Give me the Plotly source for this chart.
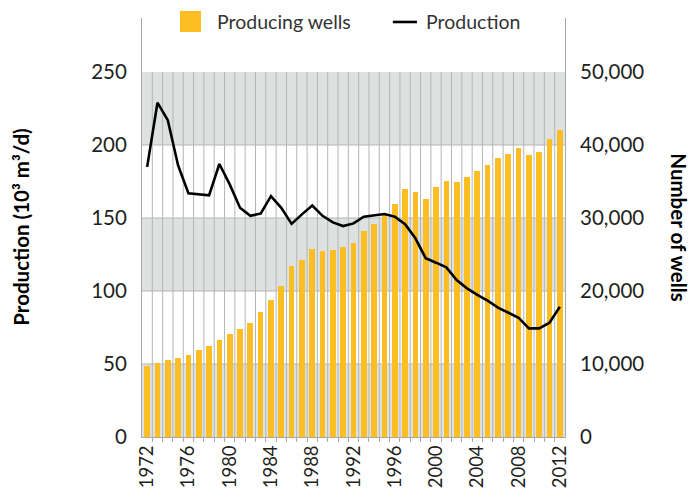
import plotly.graph_objects as go

years = list(range(1972, 2013))
producing_wells = [9770, 10140, 10550, 10820, 11230, 11920, 12470, 13290, 14110, 14790,
                   15620, 17120, 18770, 20680, 23420, 24250, 25750, 25480, 25600, 25980,
                   26580, 28220, 29180, 30410, 31920, 33970, 33560, 32600, 34250, 35070,
                   34930, 35620, 36440, 37260, 38220, 38770, 39590, 38630, 39040, 40820,
                   42050]
production = [185, 229, 217, 186, 167, 166.5, 165.5, 187, 173, 157,
              151.5, 153, 165, 157, 146, 152.5, 158.5, 151.5, 147, 144.5,
              146.3, 150.9, 152, 152.7, 150.9, 145.7, 136.1, 122.4, 119.4, 116.2,
              107.5, 101.8, 97.3, 93.4, 88.6, 85.4, 81.7, 74.4, 74.4, 78.3,
              89.2]
left_ticks = [0, 50, 100, 150, 200, 250]
right_ticks = [0, 10000, 20000, 30000, 40000, 50000]
x_ticks = list(range(1972, 2013, 4))

BAR = "#FDBE23"
BAND = "#DDE2E0"
GRID = "#B5B5B5"
TXT = "#231F20"
FONT = "Lato"

YMAX = 287
fig = go.Figure()

# bars on primary axis (right side, wells), line on overlaying axis (left side, production)
fig.add_trace(go.Bar(x=years, y=producing_wells, name="Producing wells",
                     marker=dict(color=BAR, line=dict(width=0)), width=0.55,
                     yaxis="y", showlegend=False))
fig.add_trace(go.Scatter(x=years, y=production, name="Production", mode="lines",
                         line=dict(color="black", width=2.6), yaxis="y2", showlegend=False))

shapes = []
for lo in (0, 100, 200):
    shapes.append(dict(type="rect", xref="x", yref="y2", x0=years[0] - 0.5, x1=years[-1] + 0.5,
                       y0=lo, y1=lo + 50, fillcolor=BAND, line=dict(width=0), layer="below"))
for v in left_ticks[1:-1]:
    shapes.append(dict(type="line", xref="x", yref="y2", x0=years[0] - 0.5, x1=years[-1] + 0.5,
                       y0=v, y1=v, line=dict(color=GRID, width=1), layer="below"))
for yr in years[:-1]:
    shapes.append(dict(type="line", xref="x", yref="y2", x0=yr + 0.5, x1=yr + 0.5,
                       y0=0, y1=250, line=dict(color=GRID, width=1), layer="below"))

# manual legend
shapes.append(dict(type="rect", xref="paper", yref="paper", x0=0.0898, x1=0.1395,
                   y0=0.9666, y1=1.0167, fillcolor=BAR, line=dict(width=0)))
shapes.append(dict(type="line", xref="paper", yref="paper", x0=0.593, x1=0.650,
                   y0=0.9905, y1=0.9905, line=dict(color="black", width=2.6)))

annotations = [
    dict(text="Producing wells", xref="paper", yref="paper", x=0.173, y=0.9905,
         xanchor="left", yanchor="middle", showarrow=False,
         font=dict(family=FONT, size=19.5, color="#333333")),
    dict(text="Production", xref="paper", yref="paper", x=0.667, y=0.9905,
         xanchor="left", yanchor="middle", showarrow=False,
         font=dict(family=FONT, size=19.5, color="#333333")),
    dict(text="<b>Production (10³ m³/d)</b>", xref="paper", yref="paper",
         x=-0.288, y=0.5, xanchor="center", yanchor="middle", textangle=-90,
         showarrow=False, font=dict(family=FONT, size=20.5, color="black")),
    dict(text="<b>Number of wells</b>", xref="paper", yref="paper",
         x=1.270, y=0.5, xanchor="center", yanchor="middle", textangle=90,
         showarrow=False, font=dict(family=FONT, size=20.5, color="black")),
]

# page body has an 8px margin, so the figure is shrunk by 8px and margins reduced
fig.update_layout(
    width=688, height=493,
    margin=dict(l=134, r=131, t=10, b=64),
    paper_bgcolor="white", plot_bgcolor="white",
    font=dict(family=FONT, color=TXT),
    bargap=0,
    shapes=shapes,
    annotations=annotations,
    xaxis=dict(range=[years[0] - 0.5, years[-1] + 0.5], tickmode="array", tickvals=x_ticks,
               ticktext=[str(t) for t in x_ticks], tickangle=-90, ticks="",
               tickfont=dict(size=18.5, color=TXT), showgrid=False, zeroline=False,
               showline=True, linecolor="#A8A8A8", linewidth=1,
               minor=dict(tickvals=[y + 0.5 for y in years[:-1]], ticks="outside",
                          ticklen=4, tickcolor="#A8A8A8", showgrid=False)),
    yaxis=dict(range=[0, YMAX * 200], side="right", tickmode="array",
               tickvals=right_ticks, tickformat=",d",
               tickfont=dict(size=20.5, color=TXT), showgrid=False, zeroline=False,
               showline=True, linecolor="#A8A8A8", linewidth=1, ticks="",
               ticklabelstandoff=10),
    yaxis2=dict(range=[0, YMAX], overlaying="y", side="left", tickmode="array",
                tickvals=left_ticks,
                tickfont=dict(size=20.5, color=TXT), showgrid=False, zeroline=False,
                showline=True, linecolor="#A8A8A8", linewidth=1, ticks="",
                ticklabelstandoff=10),
)

fig.write_html("out.html")
